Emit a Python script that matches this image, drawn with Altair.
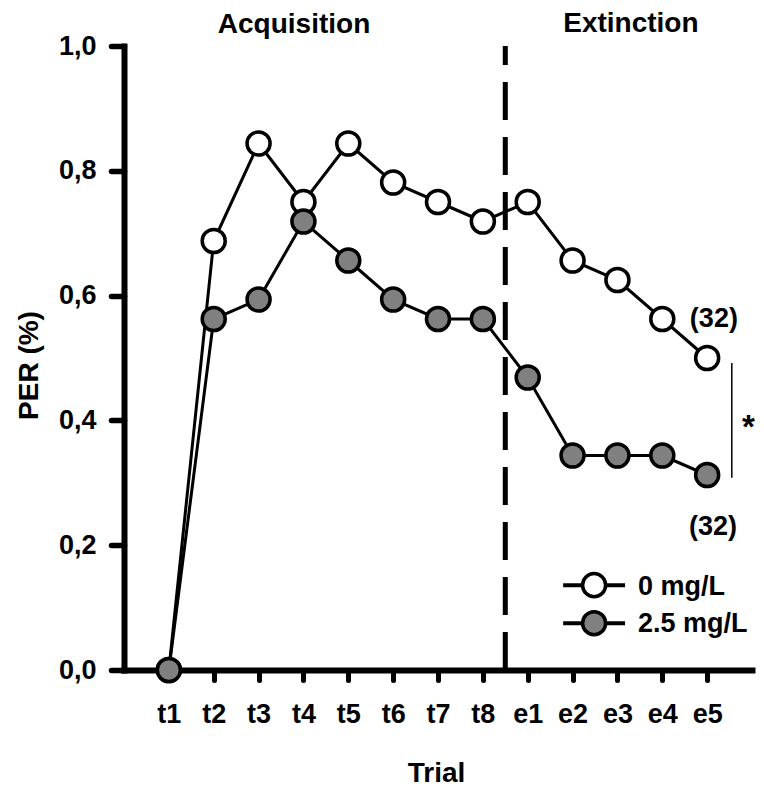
import altair as alt
import pandas as pd

# ---------------- data ----------------
trials = ["t1", "t2", "t3", "t4", "t5", "t6", "t7", "t8",
          "e1", "e2", "e3", "e4", "e5"]
per_0mg = [0.0, 0.6875, 0.84375, 0.75, 0.84375, 0.78125, 0.75, 0.71875,
           0.75, 0.65625, 0.625, 0.5625, 0.5]
per_25mg = [0.0, 0.5625, 0.59375, 0.71875, 0.65625, 0.59375, 0.5625, 0.5625,
            0.46875, 0.34375, 0.34375, 0.34375, 0.3125]
series_names = ["0 mg/L", "2.5 mg/L"]
phase_titles = ["Acquisition", "Extinction"]
n_labels = ["(32)", "(32)"]
y_ticks = [0.0, 0.2, 0.4, 0.6, 0.8, 1.0]

# ---------------- style ----------------
FONT = "Liberation Sans"
GRAY = "#808080"
W, H = 628, 624
LABEL_FS = 27
TITLE_FS = 28

idx = list(range(1, len(trials) + 1))
n_acq = sum(1 for t in trials if t.startswith("t"))
df0 = pd.DataFrame({"i": idx, "trial": trials, "per": per_0mg})
df25 = pd.DataFrame({"i": idx, "trial": trials, "per": per_25mg})

xscale = alt.Scale(domain=[0, len(trials) + 1], nice=False, zero=False)
yscale = alt.Scale(domain=[0, 1], nice=False, zero=False)

label_arr = "[" + ",".join("'" + t + "'" for t in [""] + trials) + "]"

x_axis = alt.Axis(
    values=idx, labelExpr=label_arr + "[datum.value]",
    title="Trial", titleX=312, titleY=111, titleBaseline="alphabetic",
    titleAlign="center", titleFontSize=TITLE_FS, titleFont=FONT, titleFontWeight="bold",
    titleColor="black",
    tickSize=10, tickWidth=5, tickCap="round", tickColor="black",
    domainWidth=6, domainColor="black", domainCap="square",
    labelFontSize=LABEL_FS, labelFont=FONT, labelFontWeight="bold", labelColor="black",
    labelBaseline="alphabetic", labelPadding=42, labelFlush=False,
    labelOverlap=False, grid=False,
)
y_axis = alt.Axis(
    values=y_ticks, labelExpr="replace(format(datum.value, '.1f'), '.', ',')",
    title="PER (%)", titleX=-95, titleY=319, titleAngle=-90,
    titleBaseline="middle", titleAlign="center",
    titleFontSize=TITLE_FS, titleFont=FONT, titleFontWeight="bold", titleColor="black",
    tickSize=13, tickWidth=5.5, tickCap="round", tickColor="black",
    domainWidth=6, domainColor="black", domainCap="square",
    labelFontSize=LABEL_FS, labelFont=FONT, labelFontWeight="bold", labelColor="black",
    labelPadding=15, labelFlush=False, labelOverlap=False, grid=False,
)


def X(field=None, **kw):
    if field is not None:
        return alt.X(field, scale=xscale, axis=x_axis)
    return alt.X(scale=xscale, axis=x_axis, **kw)


def Y(field=None, **kw):
    if field is not None:
        return alt.Y(field, scale=yscale, axis=y_axis)
    return alt.Y(scale=yscale, axis=y_axis, **kw)


POINT_SIZE = 530

line0 = alt.Chart(df0).mark_line(color="black", strokeWidth=3).encode(x=X("i:Q"), y=Y("per:Q"))
line25 = alt.Chart(df25).mark_line(color="black", strokeWidth=3).encode(x=X("i:Q"), y=Y("per:Q"))
pts0 = alt.Chart(df0).mark_point(
    shape="circle", filled=True, fill="white", stroke="black", strokeWidth=3.5,
    size=POINT_SIZE, opacity=1).encode(x=X("i:Q"), y=Y("per:Q"))
pts25 = alt.Chart(df25).mark_point(
    shape="circle", filled=True, fill=GRAY, stroke="black", strokeWidth=3.5,
    size=POINT_SIZE, opacity=1).encode(x=X("i:Q"), y=Y("per:Q"))

# phase separator (dashed), drawn from bottom to top
sep = alt.Chart(pd.DataFrame({"a": [0]})).mark_rule(
    color="black", strokeWidth=5, strokeDash=[38, 17]).encode(
    x=X(datum=n_acq + 0.5), y=Y(datum=0), y2=alt.Y2(datum=1))

# phase titles
titles_df = pd.DataFrame({"label": phase_titles, "x": [3.79, 11.30], "y": [1.021, 1.022]})
titles = alt.Chart(titles_df).mark_text(
    font=FONT, fontWeight="bold", fontSize=TITLE_FS, color="black",
    align="center", baseline="alphabetic").encode(
    x=X("x:Q"), y=Y("y:Q"), text="label:N")

# n labels
n_df = pd.DataFrame({"label": n_labels, "x": [13.15, 13.13], "y": [0.550, 0.216]})
n_text = alt.Chart(n_df).mark_text(
    font=FONT, fontWeight="bold", fontSize=LABEL_FS, color="black",
    align="center", baseline="alphabetic").encode(
    x=X("x:Q"), y=Y("y:Q"), text="label:N")

# significance bracket
sig_line = alt.Chart(pd.DataFrame({"a": [0]})).mark_rule(
    color="black", strokeWidth=1.5).encode(
    x=X(datum=13.55), y=Y(datum=0.308), y2=alt.Y2(datum=0.492))
star = alt.Chart(pd.DataFrame({"label": ["*"]})).mark_text(
    font=FONT, fontWeight="bold", fontSize=33, color="black",
    align="center", baseline="middle").encode(
    x=X(datum=13.92), y=Y(datum=0.388), text="label:N")

# manual legend
leg_df = pd.DataFrame({
    "name": series_names,
    "fill": ["white", GRAY],
    "y": [0.136, 0.075],
    "ty": [0.120, 0.061],
})
leg_lines = alt.Chart(leg_df).mark_rule(color="black", strokeWidth=4).encode(
    x=X(datum=9.79), x2=alt.X2(datum=11.17), y=Y("y:Q"))
leg_pts = alt.Chart(leg_df).mark_point(
    shape="circle", filled=True, stroke="black", strokeWidth=3.5,
    size=POINT_SIZE, opacity=1).encode(
    x=X(datum=10.48), y=Y("y:Q"),
    fill=alt.Fill("fill:N", scale=None, legend=None))
leg_text = alt.Chart(leg_df).mark_text(
    font=FONT, fontWeight="bold", fontSize=LABEL_FS, color="black",
    align="left", baseline="alphabetic").encode(
    x=X(datum=11.46), y=Y("ty:Q"), text="name:N")

chart = alt.layer(
    sep, line0, line25, pts0, pts25, titles, n_text, sig_line, star,
    leg_lines, leg_pts, leg_text,
).properties(
    width=W, height=H,
    padding={"left": 116, "top": 38, "right": 4, "bottom": 118},
    autosize=alt.AutoSizeParams(type="none"),
    background="white",
).configure_view(stroke=None)

chart.save("out.html", embed_options={"renderer": "svg", "actions": False})
